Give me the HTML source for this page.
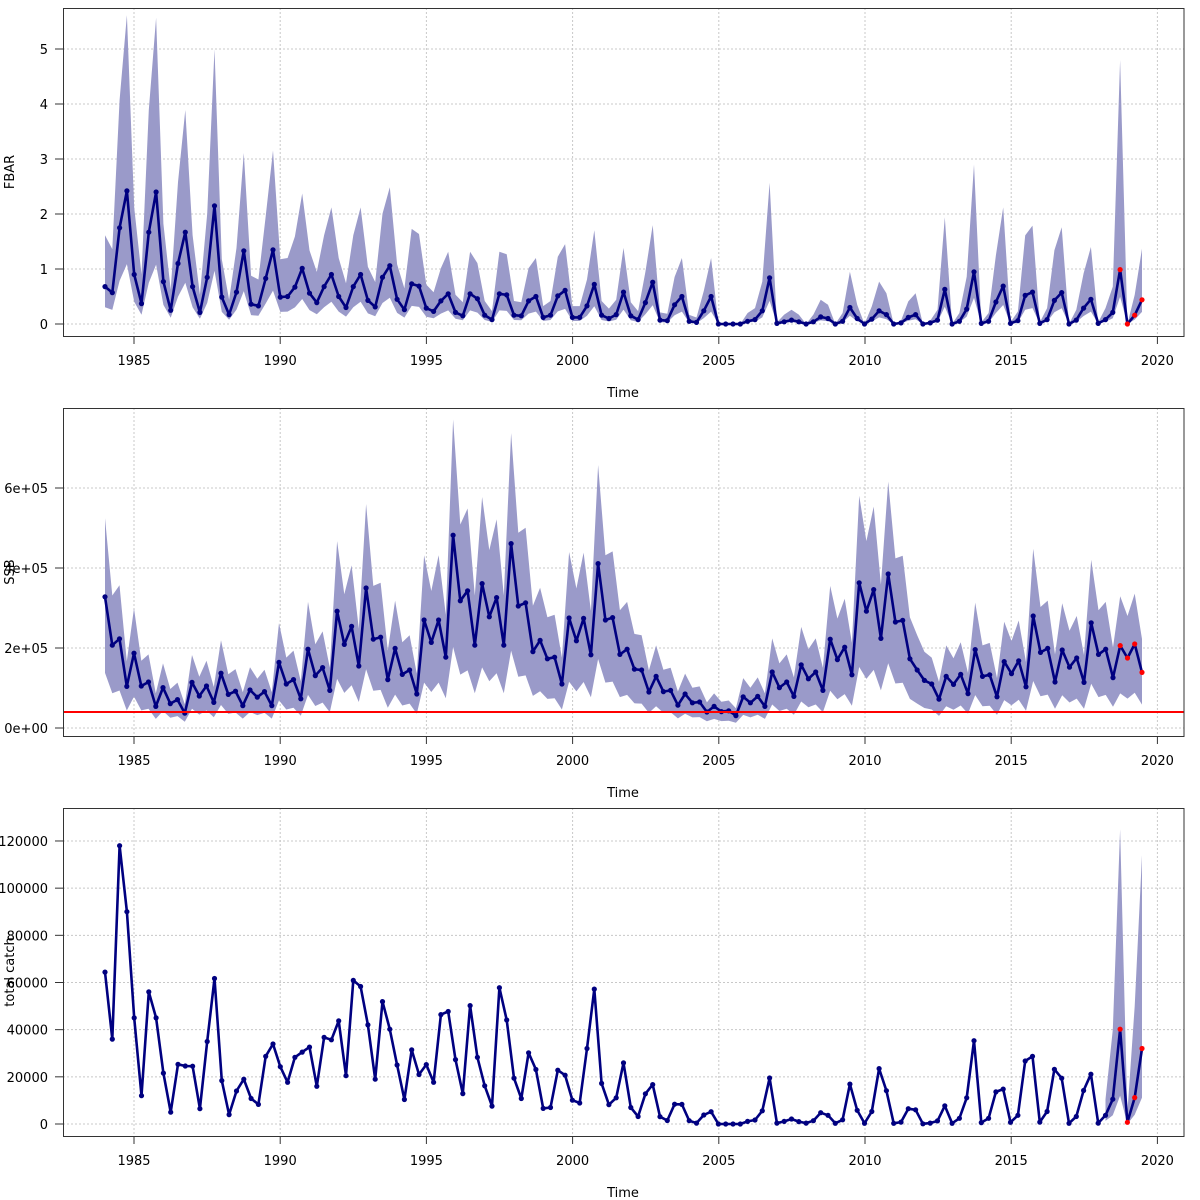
<!DOCTYPE html>
<html><head><meta charset="utf-8">
<style>
html,body{margin:0;padding:0;background:#fff;}
svg{display:block;font-family:"DejaVu Sans","Liberation Sans",sans-serif;}
</style></head>
<body>
<svg id="s" width="1200" height="1200" xmlns="http://www.w3.org/2000/svg"></svg>
<script>
const fbar=[0.68,0.57,1.75,2.42,0.9,0.37,1.67,2.4,0.77,0.25,1.1,1.67,0.68,0.21,0.85,2.15,0.49,0.17,0.58,1.33,0.36,0.33,0.83,1.35,0.49,0.5,0.67,1.01,0.56,0.39,0.68,0.9,0.5,0.3,0.68,0.9,0.43,0.31,0.85,1.06,0.45,0.26,0.73,0.69,0.29,0.23,0.42,0.55,0.21,0.15,0.55,0.46,0.16,0.08,0.55,0.53,0.16,0.15,0.42,0.5,0.12,0.16,0.51,0.61,0.12,0.12,0.33,0.72,0.16,0.1,0.17,0.58,
0.15,0.08,0.39,0.76,0.07,0.06,0.35,0.5,0.05,0.03,0.24,0.5,0,0,0,0,0.05,0.08,0.24,0.84,0.01,0.04,0.07,0.04,0,0.04,0.13,0.1,0,0.05,0.3,0.1,0,0.09,0.24,0.17,0,0.02,0.12,0.17,0,0.02,0.07,0.63,0,0.05,0.27,0.95,0.01,0.05,0.4,0.69,0.01,0.06,0.52,0.58,0.01,0.08,0.43,0.57,0,0.07,0.29,0.45,0.01,0.08,0.21,0.99,0,0.16,0.44];
const ssb=[3.28,2.07,2.23,1.04,1.87,1.05,1.15,0.54,1.01,0.61,0.71,0.37,1.14,0.8,1.05,0.64,1.37,0.84,0.92,0.56,0.95,0.77,0.91,0.56,1.64,1.1,1.21,0.73,1.97,1.31,1.51,0.94,2.92,2.09,2.54,1.55,3.5,2.22,2.27,1.21,1.99,1.34,1.45,0.85,2.7,2.14,2.7,1.77,4.82,3.18,3.43,2.07,3.61,2.78,3.26,2.07,4.61,3.05,3.13,1.91,2.19,1.73,1.77,1.1,2.75,2.18,2.74,1.83,4.11,2.7,2.76,1.84,
1.97,1.47,1.45,0.9,1.29,0.91,0.94,0.57,0.85,0.63,0.65,0.4,0.54,0.41,0.43,0.31,0.78,0.63,0.79,0.54,1.4,1.01,1.15,0.79,1.58,1.23,1.4,0.94,2.22,1.71,2.02,1.33,3.63,2.92,3.46,2.24,3.85,2.65,2.69,1.73,1.45,1.19,1.1,0.72,1.29,1.09,1.34,0.86,1.96,1.29,1.33,0.78,1.66,1.36,1.68,1.03,2.8,1.89,1.99,1.15,1.95,1.52,1.75,1.14,2.63,1.84,1.97,1.26,2.06,1.75,2.1,1.39];
const catchv=[64.4,36,118,90,45,12,56,45,21.6,5,25.3,24.6,24.5,6.5,35,61.7,18.4,4,14,19,10.8,8.3,28.7,33.9,24.3,17.7,28.3,30.5,32.6,16,36.7,35.7,43.7,20.5,60.9,58.3,42,19,51.9,40.2,25,10.4,31.4,21,25.2,17.7,46.4,47.7,27.3,12.9,50.2,28.3,16.2,7.6,57.8,44.1,19.4,10.8,30.2,23.1,6.6,7,22.8,20.7,10.1,8.9,32,57.2,17.2,8.2,11.1,25.9,
7,3.2,12.8,16.7,3.1,1.5,8.4,8.3,1.4,0.4,3.8,5.2,0,0,0,0,1.1,1.7,5.6,19.5,0.4,1.1,2.1,1,0.4,1.4,4.8,3.7,0.3,1.8,16.9,5.8,0.3,5.3,23.5,14.1,0.3,0.8,6.5,6,0.1,0.4,1.3,7.7,0.3,2.4,11.1,35.3,0.6,2.4,13.6,14.8,0.7,3.7,26.7,28.7,0.8,5.3,23.2,19.4,0.3,3.2,14.2,21.1,0.4,3.7,10.5,40.2,0.7,11.2,32];
const S=document.getElementById('s');let h='';
const NAVY='#000080',BAND='#9a9ac9';
const TS=146.2;
function X(i,n){return 105+i*(1142-105)/(n-1);}
function panel(top,bot,yfun,ticks){
  for(let k=0;k<8;k++){const x=134+k*TS;h+=`<line x1="${x}" y1="${top}" x2="${x}" y2="${bot}" stroke="#c8c8c8" stroke-dasharray="2,2"/>`;}
  ticks.forEach(t=>{const y=yfun(t);h+=`<line x1="63" y1="${y}" x2="1184" y2="${y}" stroke="#c8c8c8" stroke-dasharray="2,2"/>`;});
}
function frame(top,bot,yfun,ticks,labels,ylab,ylabY){
  h+=`<rect x="63.5" y="${top+.5}" width="1120.5" height="${bot-top}" fill="none" stroke="#333" stroke-width="1"/>`;
  ticks.forEach((t,j)=>{const y=yfun(t);h+=`<line x1="55" y1="${y}" x2="63" y2="${y}" stroke="#333"/><text x="48" y="${y+5}" text-anchor="end" font-size="13">${labels[j]}</text>`;});
  for(let k=0;k<8;k++){const x=134+k*TS;h+=`<line x1="${x}" y1="${bot}" x2="${x}" y2="${bot+8}" stroke="#333"/><text x="${x}" y="${bot+29}" text-anchor="middle" font-size="13">${1985+5*k}</text>`;}
  h+=`<text x="623" y="${bot+61}" text-anchor="middle" font-size="13">Time</text>`;
  h+=`<text transform="translate(14,${ylabY}) rotate(-90)" text-anchor="middle" font-size="13">${ylab}</text>`;
}
function series(v,yfun,lo,hi,redFrom,bandFrom){
  const n=v.length;let up='',dn='';
  for(let i=bandFrom;i<n;i++){up+=`${X(i,n).toFixed(1)},${yfun(hi(v[i],i)).toFixed(1)} `;}
  for(let i=n-1;i>=bandFrom;i--){dn+=`${X(i,n).toFixed(1)},${yfun(lo(v[i],i)).toFixed(1)} `;}
  h+=`<polygon points="${up}${dn}" fill="${BAND}"/>`;
  let p='';for(let i=0;i<n;i++)p+=`${X(i,n).toFixed(1)},${yfun(v[i]).toFixed(1)} `;
  h+=`<polyline points="${p}" fill="none" stroke="${NAVY}" stroke-width="2.6" stroke-linejoin="round"/>`;
  for(let i=0;i<n;i++)h+=`<circle cx="${X(i,n).toFixed(1)}" cy="${yfun(v[i]).toFixed(1)}" r="2.6" fill="${i>=redFrom?'#f00':NAVY}"/>`;
}
const y1=v=>324-v*55;
panel(8,336,y1,[0,1,2,3,4,5]);
series(fbar,y1,(v,i)=>v*(i<84?0.45:0.5),(v,i)=>{if(i===139)return 4.8;return v*(i<84?2.3:3.0)+(v>0.02?0.05:0);},139,0);
frame(8,336,y1,[0,1,2,3,4,5],['0','1','2','3','4','5'],'FBAR',172);
const y2=v=>728-v*40;
panel(408,736,y2,[0,2,4,6]);
series(ssb,y2,v=>v*0.42,v=>v*1.6,140,0);
h+=`<line x1="63" y1="712" x2="1184" y2="712" stroke="#f00" stroke-width="2"/>`;
frame(408,736,y2,[0,2,4,6],['0e+00','2e+05','4e+05','6e+05'],'SSB',572);
const y3=v=>1124-v*2.3585;
panel(808,1136,y3,[0,20,40,60,80,100,120]);
series(catchv,y3,(v,i)=>i===140?0:(i===139?12:v*0.35),(v,i)=>({137:10.5,138:40,139:125,140:5,141:50,142:114})[i]||v,139,137);
frame(808,1136,y3,[0,20,40,60,80,100,120],['0','20000','40000','60000','80000','100000','120000'],'total catch',972);
S.innerHTML=h;
</script>
</body></html>
